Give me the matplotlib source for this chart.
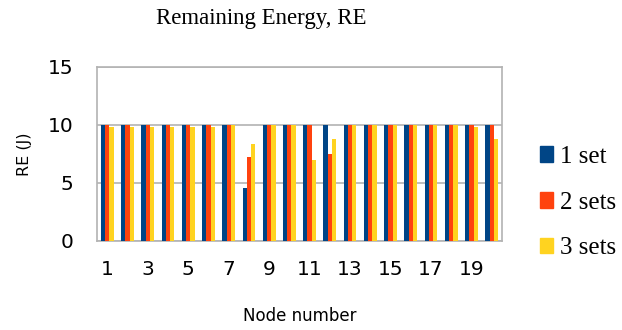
import matplotlib
matplotlib.use("Agg")
import matplotlib.pyplot as plt
import numpy as np
from matplotlib.patches import Patch

nodes = list(range(1, 21))
set1 = [10, 10, 10, 10, 10, 10, 10, 4.6, 10, 10, 10, 10, 10, 10, 10, 10, 10, 10, 10, 10]
set2 = [10, 10, 10, 10, 10, 10, 10, 7.2, 10, 10, 10, 7.5, 10, 10, 10, 10, 10, 10, 10, 10]
set3 = [9.8, 9.8, 9.8, 9.8, 9.8, 9.8, 10, 8.4, 10, 10, 7.0, 8.8, 10, 10, 10, 10, 10, 10, 9.8, 8.8]
series_names = ["1 set", "2 sets", "3 sets"]
colors = ["#004586", "#FF420E", "#FFD320"]
xtick_labels = [str(n) for n in range(1, 21, 2)]

fig = plt.figure(figsize=(6.22, 3.30), dpi=100)
ax = fig.add_axes([0.156, 0.270, 0.651, 0.527])

x = np.arange(len(nodes))
w = 0.21
for i, (vals, c) in enumerate(zip([set1, set2, set3], colors)):
    ax.bar(x + (i - 1) * w, vals, width=w, color=c, zorder=3)

ax.set_xlim(-0.5, len(nodes) - 0.5)
ax.set_ylim(0, 15)
ax.set_yticks([0, 5, 10, 15])
ax.set_xticks(x[::2])
ax.set_xticklabels(xtick_labels)
ax.yaxis.grid(True, color="#b3b3b3", linewidth=1.2, zorder=0)
ax.tick_params(axis="both", length=0, labelsize=14.5)
ax.tick_params(axis="y", pad=17)
ax.tick_params(axis="x", pad=14)
for s in ax.spines.values():
    s.set_color("#b3b3b3")
    s.set_linewidth(1.2)

ax.set_ylabel("RE (J)", fontsize=11.5, labelpad=11)
ax.set_xlabel("Node number", fontsize=12, labelpad=20)
fig.text(0.42, 0.945, "Remaining Energy, RE", ha="center", va="center",
         fontsize=16.5, family="Liberation Serif")

handles = [Patch(color=c) for c in colors]
leg = fig.legend(handles, series_names, loc="center left", bbox_to_anchor=(0.868, 0.386),
                 frameon=False, prop={"family": "Liberation Serif", "size": 18},
                 handlelength=0.52, handleheight=0.6, handletextpad=0.3, labelspacing=0.95,
                 borderpad=0, borderaxespad=0)

fig.savefig("out.png", dpi=100)
